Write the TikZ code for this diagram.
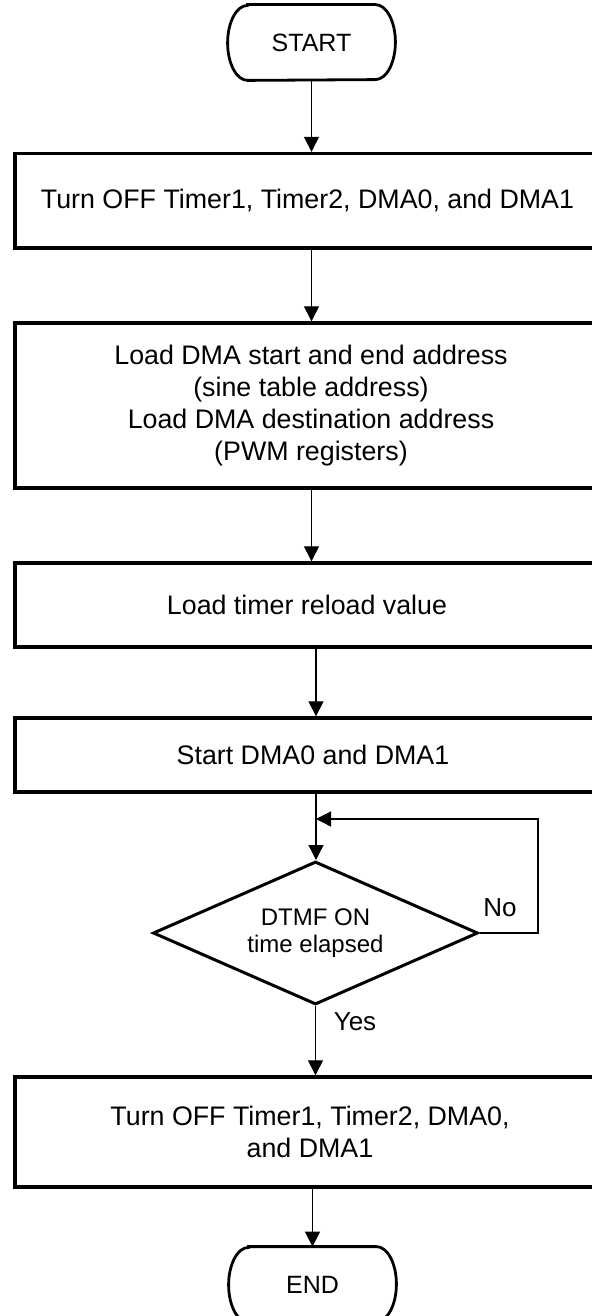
\documentclass[tikz,border=0pt]{standalone}
\usepackage{fontspec}
\setmainfont{Liberation Sans}
\usetikzlibrary{shapes.geometric,arrows.meta}
\tikzset{
  procbox/.style={draw, line width=1.7pt, rectangle, inner sep=0pt, align=center,
    font=\fontsize{13.4}{16}\selectfont},
  termbox/.style={inner sep=0pt, minimum width=83.5pt, minimum height=37.5pt,
    font=\fontsize{12.5}{15}\selectfont},
  termline/.style={line width=1.4pt},
  decbox/.style={draw, diamond, line width=1.5pt, shape aspect=2.27, inner sep=0pt,
    minimum width=162.5pt, minimum height=71.5pt, align=center,
    font=\fontsize{12}{13.5}\selectfont},
  arr/.style={line width=0.65pt, -{Triangle[length=7.5pt,width=7.5pt]}},
  lbl/.style={inner sep=0pt, font=\fontsize{13}{15}\selectfont}
}
\begin{document}
\begin{tikzpicture}[x=0.5pt,y=-0.5pt]
\useasboundingbox (0,0) rectangle (592,1316);
\fill[white] (0,0) rectangle (592,1316);
\clip (0,0) rectangle (592,1316);

% terminals
\node[termbox] (start) at (311.5,42.5) {START};
\draw[termline] ([xshift=10pt]start.north west) -- ([xshift=-10pt]start.north east)
  arc[start angle=90,end angle=-90,x radius=10pt,y radius=18.75pt]
  -- ([xshift=10pt]start.south west)
  arc[start angle=270,end angle=90,x radius=10pt,y radius=18.75pt] -- cycle;

\node[termbox] (end) at (312.5,1284.5) {END};
\draw[termline] ([xshift=10pt]end.north west) -- ([xshift=-10pt]end.north east)
  arc[start angle=90,end angle=-90,x radius=10pt,y radius=18.75pt]
  -- ([xshift=10pt]end.south west)
  arc[start angle=270,end angle=90,x radius=10pt,y radius=18.75pt] -- cycle;

% process boxes
\node[procbox, minimum width=292.5pt, minimum height=47.25pt] (b1) at (307.5,200.75)
  {Turn OFF Timer1, Timer2, DMA0, and DMA1};
\node[procbox, minimum width=296pt, minimum height=82.5pt] (b2) at (311,405.5)
  {Load DMA start and end address\\(sine table address)\\Load DMA destination address\\(PWM registers)};
\node[procbox, minimum width=292pt, minimum height=42pt] (b3) at (307,605)
  {Load timer reload value};
\node[procbox, minimum width=298pt, minimum height=37pt] (b4) at (313,755)
  {Start DMA0 and DMA1};
\node[decbox] (dia) at (315.5,933) {DTMF ON\\time elapsed};
\node[procbox, minimum width=295pt, minimum height=55pt] (b5) at (310,1132)
  {Turn OFF Timer1, Timer2, DMA0,\\and DMA1};

% labels
\node[lbl] (no) at (500,908) {No};
\node[lbl] (yes) at (355,1022) {Yes};

% connectors
\coordinate (join) at (316,819);
\coordinate (lp) at (538,819);
\draw[arr] (start.south) -- (start.south |- b1.north);
\draw[arr] (start.south |- b1.south) -- (start.south |- b2.north);
\draw[arr] (start.south |- b2.south) -- (start.south |- b3.north);
\draw[arr] (join |- b3.south) -- (join |- b4.north);
\draw[arr] (join |- b4.south) -- (join |- dia.north);
\draw[arr] (dia.east) -| (lp) -- (join);
\draw[arr] (dia.south) -- (dia.south |- b5.north);
\draw[arr] (end.north |- b5.south) -- (end.north);
\end{tikzpicture}
\end{document}
